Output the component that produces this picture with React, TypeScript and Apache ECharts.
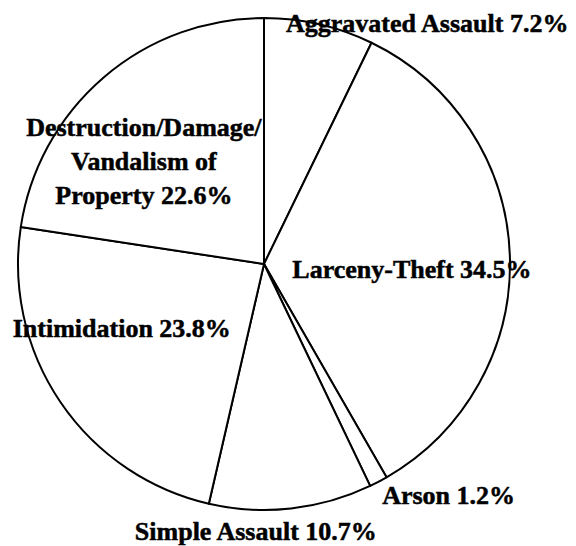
import React, { useEffect, useRef } from "react";
import * as echarts from "echarts";

const categories = [
  "Aggravated Assault",
  "Larceny-Theft",
  "Arson",
  "Simple Assault",
  "Intimidation",
  "Destruction/Damage/\nVandalism of\nProperty",
];
const percents = [7.2, 34.5, 1.2, 10.7, 23.8, 22.6];

// label offsets from the default inside position (layout only)
const labelOffsets: [number, number][] = [
  [135, -118],
  [22, 10],
  [126, 120],
  [-22, 142],
  [-38, -6],
  [-38, -7],
];

export default function App() {
  const ref = useRef<HTMLDivElement>(null);
  useEffect(() => {
    if (!ref.current) return;
    const chart = echarts.init(ref.current, undefined, { renderer: "svg" });
    chart.setOption({
      animation: false,
      backgroundColor: "#ffffff",
      series: [
        {
          type: "pie",
          center: [264, 264],
          radius: 246,
          startAngle: 90,
          clockwise: true,
          avoidLabelOverlap: false,
          silent: true,
          itemStyle: { color: "#ffffff", borderColor: "#000000", borderWidth: 2 },
          label: {
            show: true,
            position: "inside",
            color: "#000000",
            fontFamily: "Liberation Serif",
            fontWeight: "bold",
            fontSize: 26,
            lineHeight: 34,
            align: "center",
            textBorderColor: "#000000",
            textBorderWidth: 0.5,
            formatter: (p: any) => `${p.name} ${percents[p.dataIndex].toFixed(1)}%`,
          },
          labelLine: { show: false },
          data: categories.map((name, i) => ({
            name,
            value: percents[i],
            label: { offset: labelOffsets[i] },
          })),
        },
      ],
    });
    return () => chart.dispose();
  }, []);
  return (
    <div
      ref={ref}
      style={{ position: "absolute", left: 0, top: 0, width: 576, height: 546 }}
    />
  );
}
